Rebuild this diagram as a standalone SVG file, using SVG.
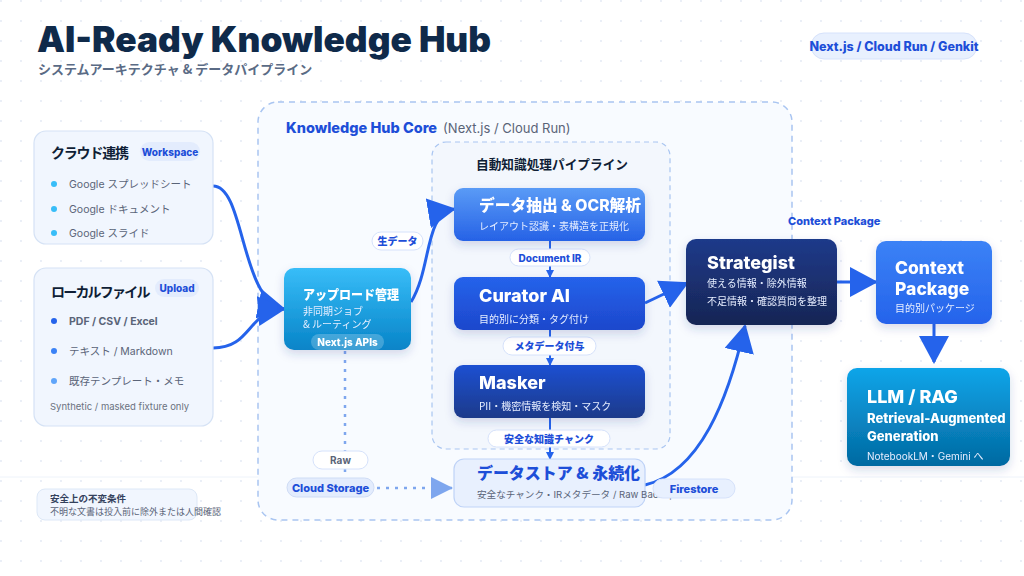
<svg xmlns="http://www.w3.org/2000/svg" width="1024" height="576" viewBox="0 0 1024 576">
<defs>
<pattern id="dots" width="20" height="20" patternUnits="userSpaceOnUse">
<circle cx="1" cy="1" r="0.9" fill="#e1e8f3"/>
</pattern>
<linearGradient id="gData" x1="0" y1="0" x2="0" y2="1"><stop offset="0" stop-color="#5a9bf6"/><stop offset="1" stop-color="#2662e6"/></linearGradient>
<linearGradient id="gCur" x1="0" y1="0" x2="0" y2="1"><stop offset="0" stop-color="#2563eb"/><stop offset="1" stop-color="#1d47cc"/></linearGradient>
<linearGradient id="gMask" x1="0" y1="0" x2="0" y2="1"><stop offset="0" stop-color="#1f50d2"/><stop offset="1" stop-color="#1e3a8a"/></linearGradient>
<linearGradient id="gUp" x1="0" y1="0" x2="0" y2="1"><stop offset="0" stop-color="#38bdf8"/><stop offset="1" stop-color="#0784c8"/></linearGradient>
<linearGradient id="gStrat" x1="0" y1="0" x2="0" y2="1"><stop offset="0" stop-color="#1e3a8a"/><stop offset="1" stop-color="#172554"/></linearGradient>
<linearGradient id="gCP" x1="0" y1="0" x2="0" y2="1"><stop offset="0" stop-color="#3b82f6"/><stop offset="1" stop-color="#2563eb"/></linearGradient>
<linearGradient id="gLLM" x1="0" y1="0" x2="0" y2="1"><stop offset="0" stop-color="#0ea5e9"/><stop offset="1" stop-color="#0369a1"/></linearGradient>
<filter id="sh" x="-20%" y="-20%" width="140%" height="160%"><feDropShadow dx="0" dy="4" stdDeviation="5" flood-color="#1e3a8a" flood-opacity="0.18"/></filter>
<marker id="big" markerUnits="userSpaceOnUse" viewBox="0 0 28 30" markerWidth="28" markerHeight="30" refX="26" refY="15" orient="auto"><path d="M0,0 L28,15 L0,30 z" fill="#2563eb"/></marker>
<marker id="bigL" markerUnits="userSpaceOnUse" viewBox="0 0 22 22" markerWidth="22" markerHeight="22" refX="21" refY="11" orient="auto"><path d="M0,0 L22,11 L0,22 z" fill="#7ea6ee"/></marker>
<marker id="sm" markerUnits="userSpaceOnUse" viewBox="0 0 8 8" markerWidth="8" markerHeight="8" refX="7" refY="4" orient="auto"><path d="M0,0 L8,4 L0,8 z" fill="#2563eb"/></marker>
</defs>
<style>
.t{font-family:Inter,"Noto Sans CJK JP",sans-serif}
.j{font-family:"Noto Sans CJK JP",Inter,sans-serif}
.panel{fill:#f1f6fe;stroke:#d5e2f5;stroke-width:1.2}
.ptitle{font-size:14px;font-weight:700;fill:#0f1e36}
.pill{fill:#e3ecfd}
.pilltxt{font-size:10px;font-weight:800;fill:#1d4ed8}
.item{font-size:10.5px;fill:#5a6478}
.wt{fill:#ffffff;font-weight:800}
.ws{fill:#e6eeff;font-size:10px}
.lbl{fill:#ffffff;stroke:#d6e2fb;stroke-width:1}
.conn{fill:none;stroke:#2563eb;stroke-width:3}
.thin{fill:none;stroke:#2563eb;stroke-width:2}
.dot{fill:none;stroke:#7ea6ee;stroke-width:2.5;stroke-dasharray:3 6}
</style>
<rect width="1024" height="576" fill="#ffffff"/>
<rect width="1024" height="576" fill="url(#dots)"/>
<line x1="0" y1="477" x2="1024" y2="477" stroke="#eef3fa" stroke-width="1"/>

<g id="header">
<text x="37" y="52" class="t" font-size="35" font-weight="900" fill="#0f2a4a" textLength="454" lengthAdjust="spacingAndGlyphs">AI-Ready Knowledge Hub</text>
<text x="38" y="74" class="j" font-size="13" font-weight="700" fill="#5a6b85">システムアーキテクチャ &amp; データパイプライン</text>
</g>
<g id="tech-badge">
<rect x="811" y="33" width="166" height="26" rx="13" fill="#e8f0fe" stroke="#d6e2fb"/>
<text x="894" y="50.5" text-anchor="middle" class="t" font-size="12.5" font-weight="800" fill="#1d4ed8">Next.js / Cloud Run / Genkit</text>
</g>

<g id="core">
<rect x="258" y="102" width="534" height="418" rx="20" fill="#f8fbff" stroke="#a9c5f1" stroke-width="1.5" stroke-dasharray="6 5"/>
<text x="286" y="133" class="t"><tspan font-size="14.5" font-weight="800" fill="#1d4ed8">Knowledge Hub Core</tspan><tspan font-size="13" fill="#5a6478" dx="6">(Next.js / Cloud Run)</tspan></text>
</g>
<g id="pipeline">
<rect x="432" y="142" width="238" height="307" rx="14" fill="#f3f7fd" stroke="#a9c5f1" stroke-width="1.2" stroke-dasharray="5 4"/>
<text x="552" y="169" text-anchor="middle" class="j" font-size="13" font-weight="700" fill="#0f1e36" textLength="152" lengthAdjust="spacingAndGlyphs">自動知識処理パイプライン</text>
</g>

<g id="connectors">
<path class="conn" d="M213,186 C245,186 240,300 284,309" marker-end="url(#big)"/>
<path class="conn" d="M213,348 C252,348 246,312 284,309" marker-end="url(#big)"/>
<path class="conn" d="M411,302 C432,268 424,214 454,209" marker-end="url(#big)"/>
<path class="thin" d="M550,241 V249"/>
<path class="thin" d="M550,266 V277" marker-end="url(#sm)"/>
<path class="thin" d="M550,330 V337"/>
<path class="thin" d="M550,355 V365" marker-end="url(#sm)"/>
<path class="thin" d="M550,418 V430"/>
<path class="thin" d="M550,447 V459" marker-end="url(#sm)"/>
<path class="conn" d="M645,303 L687,283" marker-end="url(#big)"/>
<path class="conn" d="M645,485 C700,472 728,400 745,326" marker-end="url(#big)"/>
<path class="conn" d="M837,282 L876,282" marker-end="url(#big)"/>
<path class="conn" d="M934,324 L934,362" marker-end="url(#big)"/>
<path class="dot" d="M345,351 V451"/>
<path class="dot" d="M345,469 V478"/>
<path class="dot" d="M377,488 H452" marker-end="url(#bigL)"/>
<rect class="lbl" x="372" y="232" width="51" height="18" rx="9"/>
<text x="397.5" y="245" text-anchor="middle" class="j pilltxt">生データ</text>
<rect class="lbl" x="510" y="249" width="80" height="17" rx="8.5"/>
<text x="550" y="261.5" text-anchor="middle" class="t pilltxt">Document IR</text>
<rect class="lbl" x="503" y="337" width="93" height="18" rx="9"/>
<text x="549.5" y="350" text-anchor="middle" class="j pilltxt">メタデータ付与</text>
<rect class="lbl" x="488" y="430" width="122" height="17" rx="8.5"/>
<text x="549" y="442.5" text-anchor="middle" class="j pilltxt">安全な知識チャンク</text>
<rect class="lbl" x="313" y="451" width="55" height="18" rx="9"/>
<text x="340.5" y="464" text-anchor="middle" class="t" font-size="10" font-weight="700" fill="#5a6478">Raw</text>
<text x="788" y="225" class="t" font-size="11" font-weight="800" fill="#1d4ed8">Context Package</text>
</g>

<g id="cloud-panel">
<rect class="panel" x="34" y="131" width="179" height="113" rx="12"/>
<text x="51" y="158" class="j ptitle" letter-spacing="-1.2">クラウド連携</text>
<rect class="pill" x="140" y="142" width="60" height="19" rx="9.5"/>
<text x="170" y="155.5" text-anchor="middle" class="t pilltxt">Workspace</text>
<circle cx="54" cy="184" r="3" fill="#38bdf8"/>
<circle cx="54" cy="209" r="3" fill="#38bdf8"/>
<circle cx="54" cy="233" r="3" fill="#38bdf8"/>
<text x="69" y="188" class="t item">Google スプレッドシート</text>
<text x="69" y="213" class="t item">Google ドキュメント</text>
<text x="69" y="237" class="t item">Google スライド</text>
</g>

<g id="local-panel">
<rect class="panel" x="34" y="268" width="179" height="158" rx="12"/>
<text x="51" y="297" class="j ptitle" letter-spacing="-1.8">ローカルファイル</text>
<rect class="pill" x="155" y="279" width="44" height="18" rx="9"/>
<text x="177" y="292" text-anchor="middle" class="t pilltxt">Upload</text>
<circle cx="54" cy="321" r="3" fill="#2563eb"/>
<circle cx="54" cy="351" r="3" fill="#3b82f6"/>
<circle cx="54" cy="381" r="3" fill="#60a5fa"/>
<text x="69" y="325" class="t item" font-size="11.5" font-weight="700" fill="#4a5568">PDF / CSV / Excel</text>
<text x="69" y="355" class="t item">テキスト / Markdown</text>
<text x="69" y="385" class="t item">既存テンプレート・メモ</text>
<text x="50" y="410" class="t" font-size="9.5" fill="#6b7280">Synthetic / masked fixture only</text>
</g>

<g id="upload" filter="url(#sh)">
<rect x="284" y="268" width="127" height="82" rx="10" fill="url(#gUp)"/>
<text x="303" y="299" class="j wt" font-size="13" textLength="96" lengthAdjust="spacingAndGlyphs">アップロード管理</text>
<text x="303" y="315" class="j ws">非同期ジョブ</text>
<text x="303" y="328" class="j ws">&amp; ルーティング</text>
<rect x="311" y="334" width="73" height="16" rx="8" fill="#ffffff" fill-opacity="0.22"/>
<text x="347.5" y="346" text-anchor="middle" class="t" font-size="10" font-weight="800" fill="#ffffff">Next.js APIs</text>
</g>

<g id="extract" filter="url(#sh)">
<rect x="454" y="188" width="191" height="53" rx="9" fill="url(#gData)"/>
<text x="479" y="211" class="t wt" font-size="15.5" textLength="162" lengthAdjust="spacingAndGlyphs">データ抽出 &amp; OCR解析</text>
<text x="479" y="230" class="j ws" font-size="9.6">レイアウト認識・表構造を正規化</text>
</g>

<g id="curator" filter="url(#sh)">
<rect x="454" y="277" width="191" height="53" rx="9" fill="url(#gCur)"/>
<text x="479" y="302" class="t wt" font-size="18">Curator AI</text>
<text x="479" y="323" class="j ws">目的別に分類・タグ付け</text>
</g>

<g id="masker" filter="url(#sh)">
<rect x="454" y="365" width="191" height="53" rx="9" fill="url(#gMask)"/>
<text x="479" y="389" class="t wt" font-size="18">Masker</text>
<text x="479" y="410" class="j ws">PII・機密情報を検知・マスク</text>
</g>

<g id="datastore">
<rect x="454" y="459" width="191" height="48" rx="10" fill="#e8f0fe" stroke="#bfd3f7" stroke-width="1.2"/>
<text x="477" y="479" class="j" font-size="16" font-weight="800" fill="#1d4ed8" textLength="163" lengthAdjust="spacingAndGlyphs">データストア &amp; 永続化</text>
<text x="477" y="498" class="t" font-size="9.6" fill="#5a6478">安全なチャンク・IRメタデータ / Raw Backup</text>
</g>
<g id="firestore">
<rect x="653" y="479" width="82" height="19" rx="9.5" fill="#e8f0fe" stroke="#d6e2fb"/>
<text x="694" y="492.5" text-anchor="middle" class="t" font-size="11" font-weight="800" fill="#1d4ed8">Firestore</text>
</g>
<g id="cloud-storage">
<rect x="287" y="478" width="87" height="19" rx="9.5" fill="#e3ecfd" stroke="#cfdcf5"/>
<text x="330.5" y="491.5" text-anchor="middle" class="t" font-size="11" font-weight="800" fill="#1d4ed8">Cloud Storage</text>
</g>

<g id="strategist" filter="url(#sh)">
<rect x="686" y="239" width="151" height="86" rx="10" fill="url(#gStrat)"/>
<text x="707" y="269" class="t wt" font-size="18">Strategist</text>
<text x="707" y="287" class="j ws">使える情報・除外情報</text>
<text x="707" y="305" class="j ws">不足情報・確認質問を整理</text>
</g>

<g id="context-package" filter="url(#sh)">
<rect x="876" y="241" width="116" height="83" rx="10" fill="url(#gCP)"/>
<text x="895" y="274" class="t wt" font-size="17.5">Context</text>
<text x="895" y="295" class="t wt" font-size="17.5">Package</text>
<text x="895" y="312" class="j ws">目的別パッケージ</text>
</g>

<g id="llm" filter="url(#sh)">
<rect x="847" y="368" width="163" height="98" rx="10" fill="url(#gLLM)"/>
<text x="867" y="403" class="t wt" font-size="18">LLM / RAG</text>
<text x="867" y="423" class="t wt" font-size="13">Retrieval-Augmented</text>
<text x="867" y="441" class="t wt" font-size="13">Generation</text>
<text x="867" y="460" class="t ws">NotebookLM・Gemini へ</text>
</g>

<g id="safety-note">
<rect x="37" y="489" width="160" height="31" rx="8" fill="#f1f6fe" stroke="#dde8f7"/>
<text x="50" y="502" class="j" font-size="9.5" font-weight="700" fill="#33415c">安全上の不変条件</text>
<text x="50" y="515" class="j" font-size="9" fill="#5a6478">不明な文書は投入前に除外または人間確認</text>
</g>
</svg>
